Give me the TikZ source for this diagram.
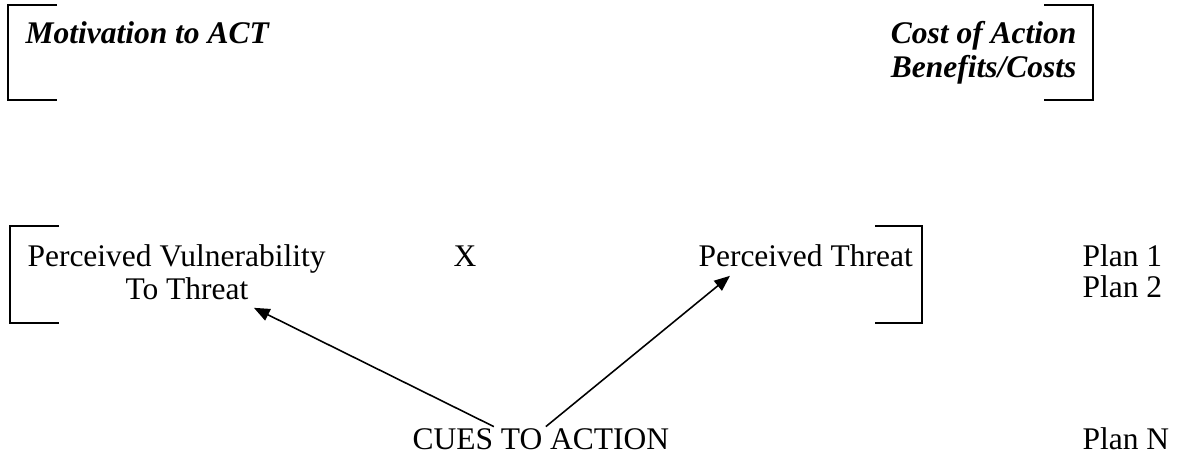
\documentclass[tikz,border=0pt]{standalone}
\usepackage{fontspec}
\setmainfont{Liberation Serif}
\usetikzlibrary{arrows.meta, positioning}

\begin{document}
\begin{tikzpicture}[
  x=0.381pt, y=-0.381pt,
  font=\fontsize{12}{14}\selectfont,
  lbl/.style={inner sep=0pt, anchor=base west},
  hdr/.style={inner sep=0pt, font=\fontsize{12}{14}\selectfont\bfseries\itshape},
  brk/.style={draw, line width=0.6pt},
  arr/.style={-{Triangle[length=6pt, width=4.8pt]}, line width=0.6pt}
]
\useasboundingbox (0,0) rectangle (1181,458);

% headers
\node[hdr, anchor=base west] (motiv) at (25,44) {Motivation to ACT};
\node[hdr, anchor=base east] (cost) at (1077,44) {Cost of Action};
\node[hdr, anchor=base east] (benef) at ([yshift=-12.6pt]cost.base east) {Benefits/Costs};

% middle row
\node[lbl] (vuln) at (27,267) {Perceived Vulnerability};
\node[lbl] (vulnto) at (125,300) {To Threat};
\node[lbl] (times) at (453,267) {X};
\node[lbl] (threat) at (698,267) {Perceived Threat};
\node[lbl] (plan1) at (1082,267) {Plan 1};
\node[lbl] (plan2) at (1082,298) {Plan 2};

% bottom row
\node[lbl] (cues) at (412,450) {CUES TO ACTION};
\node[lbl] (plann) at (1082,450) {Plan N};

% brackets
\draw[brk] (57,5) -- (8,5) -- (8,100) -- (57,100);
\draw[brk] (1044,5) -- (1093,5) -- (1093,100) -- (1044,100);
\draw[brk] (59,226) -- (10,226) -- (10,323) -- (59,323);
\draw[brk] (875,226) -- (922,226) -- (922,323) -- (875,323);

% cues
\draw[arr] ([shift={(-47,-2)}]cues.north) -- ([shift={(5,7)}]vulnto.south east);
\draw[arr] ([shift={(5,-2)}]cues.north) -- ([shift={(32,8)}]threat.south west);
\end{tikzpicture}
\end{document}
